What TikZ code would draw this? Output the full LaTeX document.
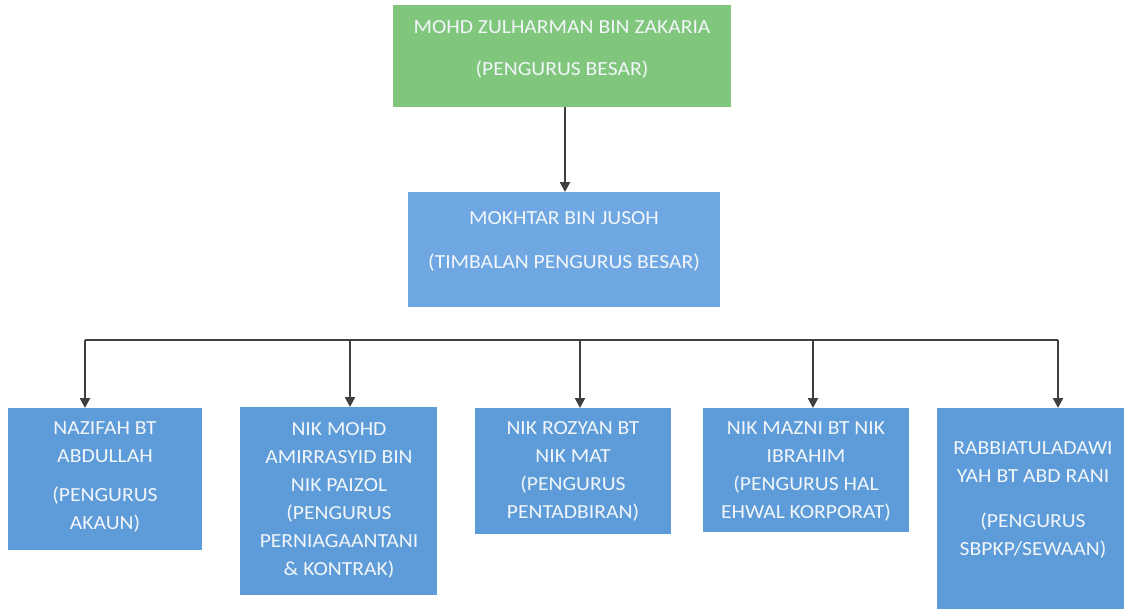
\documentclass[tikz,border=0pt]{standalone}
\usepackage{fontspec}
\setmainfont{Carlito}[FakeStretch=1.08]
\usetikzlibrary{arrows.meta}
\definecolor{topgreen}{HTML}{80C67C}
\definecolor{midblue}{HTML}{6FA7E2}
\definecolor{lowblue}{HTML}{5D9CD8}
\definecolor{txtwhite}{HTML}{F2F6FA}
\definecolor{linegrey}{HTML}{3F3F3F}
\tikzset{
  boxbase/.style={rectangle, draw=none, inner sep=0pt, anchor=north west},
  gbox/.style={boxbase, fill=topgreen},
  mbox/.style={boxbase, fill=midblue},
  lbox/.style={boxbase, fill=lowblue},
  txt/.style={text=txtwhite, align=center, inner sep=0pt, font=\fontsize{20}{28}\selectfont},
  bigtxt/.style={txt, font=\fontsize{20}{42}\selectfont},
  conn/.style={draw=linegrey, line width=2.4pt, -{Triangle[length=10pt,width=10pt]}},
  bar/.style={draw=linegrey, line width=2.4pt}
}
\begin{document}
\begin{tikzpicture}[x=1pt,y=-1pt]
\useasboundingbox (0,0) rectangle (1124,608);
\clip (0,0) rectangle (1124,608);
% boxes
\node[gbox, minimum width=338pt, minimum height=102pt] (top) at (393,5) {};
\node[mbox, minimum width=312pt, minimum height=115pt] (mid) at (408,192) {};
\node[lbox, minimum width=194pt, minimum height=142pt] (b1) at (8,408) {};
\node[lbox, minimum width=197pt, minimum height=188pt] (b2) at (240,407) {};
\node[lbox, minimum width=196pt, minimum height=126pt] (b3) at (475,408) {};
\node[lbox, minimum width=206pt, minimum height=124pt] (b4) at (703,408) {};
\node[lbox, minimum width=200pt, minimum height=210pt] (b5) at (937,408) {};
% texts
\node[bigtxt] (ttop) at (562,49) {MOHD ZULHARMAN BIN ZAKARIA\\(PENGURUS BESAR)};
\node[bigtxt, font=\fontsize{20}{44}\selectfont] (tmid) at (564,241) {MOKHTAR BIN JUSOH\\(TIMBALAN PENGURUS BESAR)};
\node[txt] (t1) at (105,477) {NAZIFAH BT\\ABDULLAH\\[11pt](PENGURUS\\AKAUN)};
\node[txt] (t2) at (339,500) {NIK MOHD\\AMIRRASYID BIN\\NIK PAIZOL\\(PENGURUS\\PERNIAGAANTANI\\\& KONTRAK)};
\node[txt] (t3) at (573,471) {NIK ROZYAN BT\\NIK MAT\\(PENGURUS\\PENTADBIRAN)};
\node[txt] (t4) at (806,471) {NIK MAZNI BT NIK\\IBRAHIM\\(PENGURUS HAL\\EHWAL KORPORAT)};
\node[txt] (t5) at (1033,500) {RABBIATULADAWI\\YAH BT ABD RANI\\[17pt](PENGURUS\\SBPKP/SEWAAN)};
% connectors
\coordinate (jl) at (85,340);
\coordinate (jr) at (1058,340);
\draw[conn] (top.south -| 565,0) -- (mid.north -| 565,0);
\draw[bar] (jl) -- (jr);
\draw[conn] (jl) -- (b1.north -| jl);
\draw[conn] (350,340) -- (b2.north -| 350,0);
\draw[conn] (580,340) -- (b3.north -| 580,0);
\draw[conn] (813,340) -- (b4.north -| 813,0);
\draw[conn] (jr) -- (b5.north -| jr);
\end{tikzpicture}
\end{document}
